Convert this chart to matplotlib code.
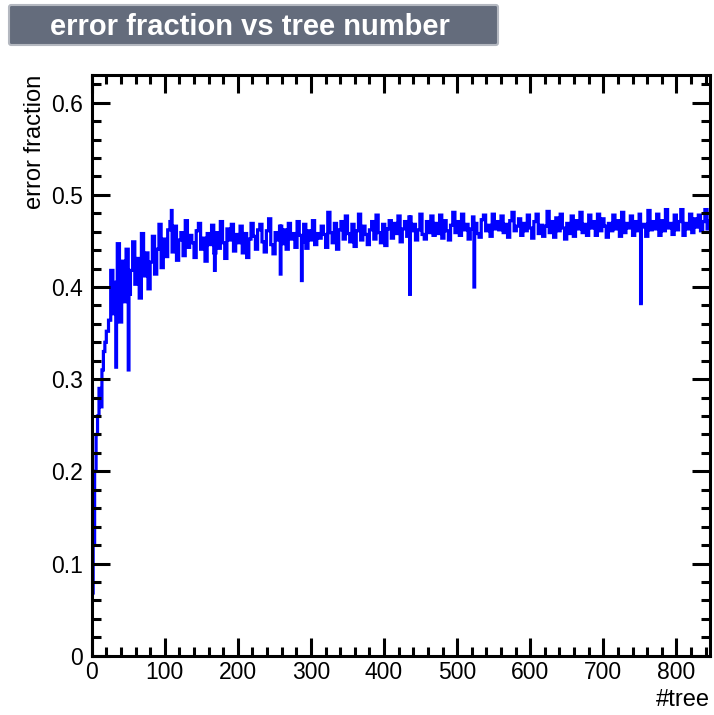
import numpy as np
import matplotlib
matplotlib.use("Agg")
import matplotlib.pyplot as plt
from matplotlib.patches import FancyBboxPatch
from matplotlib.ticker import MultipleLocator, FuncFormatter

plt.rcParams['font.family'] = ['Liberation Sans', 'DejaVu Sans']

# ---- data (error fraction per tree) ----
# first 20 trees in 2-tree bins
early_edges = [0, 2, 4, 6, 8, 10, 12, 14, 16, 18, 20]
early_values = [0.068, 0.12, 0.20, 0.24, 0.26, 0.29, 0.27, 0.31, 0.33, 0.34]

# from tree 20 onward in 3-tree bins (rows of 30 trees)
coarse_start = 20
coarse_width = 3
coarse_values = [
    0.352, 0.364, 0.418, 0.371, 0.405, 0.447, 0.362, 0.428, 0.384, 0.441,  # 20-50
    0.392, 0.418, 0.449, 0.403, 0.431, 0.388, 0.458, 0.412, 0.437, 0.398,  # 50-80
    0.427, 0.455, 0.414, 0.441, 0.468, 0.421, 0.452, 0.433, 0.462, 0.471,  # 80-110
    0.438, 0.466, 0.429, 0.451, 0.459, 0.434, 0.472, 0.443, 0.456, 0.448,  # 110-140
    0.432, 0.461, 0.469, 0.441, 0.453, 0.428, 0.458, 0.446, 0.467, 0.437,  # 140-170
    0.459, 0.442, 0.471, 0.448, 0.431, 0.463, 0.451, 0.468, 0.439, 0.457,  # 170-200
    0.448, 0.466, 0.437, 0.458, 0.432, 0.452, 0.469, 0.455, 0.441, 0.462,  # 200-230
    0.468, 0.449, 0.438, 0.461, 0.474, 0.446, 0.436, 0.459, 0.451, 0.466,  # 230-260
    0.447, 0.462, 0.441, 0.469, 0.452, 0.458, 0.443, 0.471, 0.456, 0.449,  # 260-290
    0.468, 0.442, 0.461, 0.451, 0.472, 0.446, 0.458, 0.453, 0.466, 0.457,  # 290-320
    0.443, 0.481, 0.459, 0.448, 0.469, 0.441, 0.462, 0.471, 0.452, 0.477,  # 320-350
    0.458, 0.449, 0.468, 0.444, 0.461, 0.479, 0.451, 0.466, 0.457, 0.446,  # 350-380
    0.462, 0.471, 0.452, 0.478, 0.459, 0.448, 0.468, 0.445, 0.463, 0.472,  # 380-410
    0.453, 0.469, 0.458, 0.477, 0.449, 0.463, 0.471, 0.455, 0.476, 0.461,  # 410-440
    0.468, 0.451, 0.462, 0.479, 0.457, 0.452, 0.471, 0.459, 0.477, 0.456,  # 440-470
    0.469, 0.458, 0.478, 0.453, 0.472, 0.461, 0.451, 0.467, 0.481, 0.459,  # 470-500
    0.471, 0.456, 0.479, 0.462, 0.468, 0.452, 0.463, 0.476, 0.469, 0.458,  # 500-530
    0.454, 0.473, 0.478, 0.461, 0.467, 0.455, 0.479, 0.463, 0.471, 0.462,  # 530-560
    0.477, 0.459, 0.468, 0.454, 0.472, 0.481, 0.461, 0.466, 0.474, 0.456,  # 560-590
    0.469, 0.461, 0.478, 0.464, 0.453, 0.471, 0.479, 0.458, 0.467, 0.455,  # 590-620
    0.466, 0.482, 0.459, 0.471, 0.454, 0.475, 0.461, 0.479, 0.464, 0.452,  # 620-650
    0.469, 0.458, 0.477, 0.455, 0.472, 0.463, 0.481, 0.459, 0.468, 0.456,  # 650-680
    0.478, 0.464, 0.471, 0.456, 0.479, 0.461, 0.474, 0.466, 0.454, 0.469,  # 680-710
    0.461, 0.478, 0.463, 0.472, 0.455, 0.481, 0.459, 0.469, 0.464, 0.477,  # 710-740
    0.456, 0.471, 0.461, 0.479, 0.465, 0.468, 0.455, 0.483, 0.462, 0.471,  # 740-770
    0.463, 0.479, 0.456, 0.472, 0.461, 0.484, 0.464, 0.469, 0.457, 0.478,  # 770-800
    0.462, 0.471, 0.484, 0.456, 0.469, 0.463, 0.479, 0.459, 0.474, 0.465,  # 800-830
    0.478, 0.461, 0.471, 0.484, 0.463, 0.472, 0.468,                       # 830-851
]

# single-tree outliers (tree number, error fraction)
spike_trees = [33, 50, 109, 168, 258, 287, 435, 523, 751]
spike_values = [0.313, 0.310, 0.483, 0.418, 0.414, 0.407, 0.392, 0.400, 0.382]

n_trees = 851
x_max = 846
y_max = 0.63

# ---- assemble per-tree histogram ----
per_tree = np.zeros(n_trees)
for i, v in enumerate(early_values):
    per_tree[early_edges[i]:early_edges[i + 1]] = v
for i, v in enumerate(coarse_values):
    a = coarse_start + i * coarse_width
    per_tree[a:a + coarse_width] = v
for t, v in zip(spike_trees, spike_values):
    per_tree[t] = v
edges = np.arange(n_trees + 1)

# ---- figure ----
W, H = 714, 715
fig = plt.figure(figsize=(W / 100, H / 100), dpi=100)
fig.patch.set_facecolor('white')

ax = fig.add_axes([91.7 / W, 1 - 655.7 / H, (710 - 91.7) / W, (655.7 - 75) / H])
ax.stairs(per_tree, edges, color='#0000ff', linewidth=2.3, baseline=None)

ax.set_xlim(0, x_max)
ax.set_ylim(0, y_max)

ax.xaxis.set_major_locator(MultipleLocator(100))
ax.xaxis.set_minor_locator(MultipleLocator(20))
ax.yaxis.set_major_locator(MultipleLocator(0.1))
ax.yaxis.set_minor_locator(MultipleLocator(0.02))
ax.yaxis.set_major_formatter(FuncFormatter(
    lambda v, p: '0' if abs(v) < 1e-9 else f'{v:.1f}'))

for s in ax.spines.values():
    s.set_linewidth(2.2)
ax.tick_params(which='both', direction='in', top=True, right=True,
               width=2.2, colors='black', labelsize=16.5)
ax.tick_params(which='major', length=13)
ax.tick_params(which='minor', length=6.5)
ax.tick_params(axis='y', which='major', pad=6)
ax.tick_params(axis='x', which='major', pad=4)

fig.text(35 / W, 1 - 75 / H, 'error fraction', rotation=90, ha='center',
         va='top', fontsize=17)
fig.text(710 / W, 1 - 700 / H, '#tree', ha='right', va='center', fontsize=17)

# title box
box = FancyBboxPatch((9 / W, 1 - 45 / H), 489 / W, 40 / H,
                     boxstyle='round,pad=0,rounding_size=0.003',
                     transform=fig.transFigure, facecolor='#646c7c',
                     edgecolor='#b4b8c0', linewidth=1.5)
fig.patches.append(box)
fig.text(250 / W, 1 - 27 / H, 'error fraction vs tree number', ha='center',
         va='center', fontsize=21, fontweight='bold', color='white')

fig.savefig('out.png', dpi=100)
